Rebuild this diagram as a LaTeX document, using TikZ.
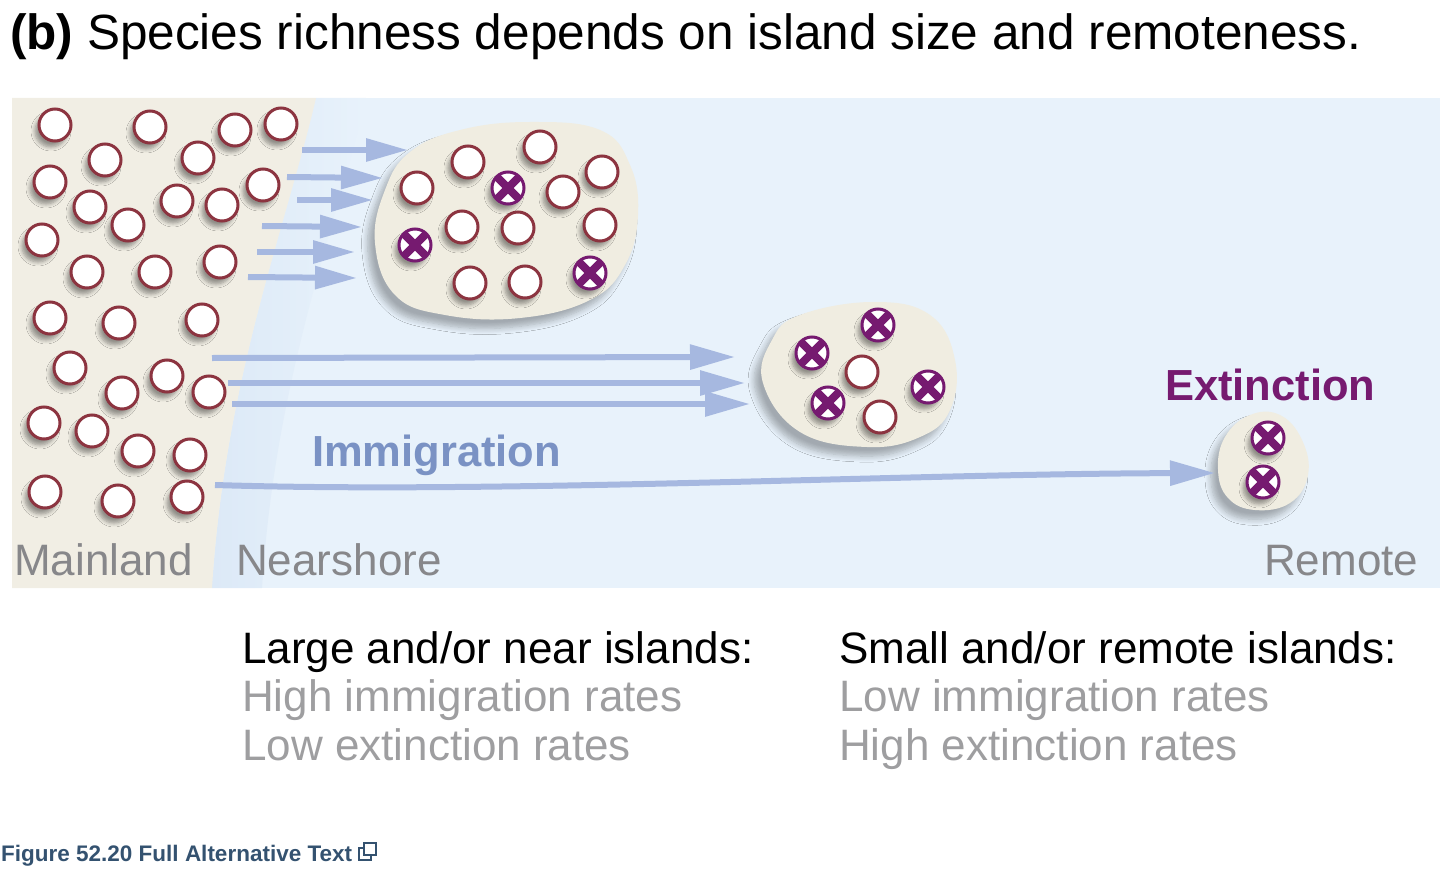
\documentclass[tikz,border=0pt]{standalone}
\usepackage{fontspec}
\setmainfont{Liberation Sans}
\usetikzlibrary{arrows.meta,shadows,shadows.blur}
\definecolor{panelblue}{RGB}{232,242,251}
\definecolor{shoreblue}{RGB}{220,233,247}
\definecolor{beige}{RGB}{241,238,228}
\definecolor{islbeige}{RGB}{240,237,225}
\definecolor{spred}{RGB}{140,52,64}
\definecolor{extp}{RGB}{118,26,112}
\definecolor{arrowblue}{RGB}{166,184,224}
\definecolor{immblue}{RGB}{122,146,196}
\definecolor{labgray}{RGB}{135,135,138}
\definecolor{rategray}{RGB}{158,158,160}
\definecolor{footblue}{RGB}{52,82,112}
\tikzset{
  sp/.style={circle, draw=spred, line width=3pt, fill=white, minimum size=32pt, inner sep=0pt,
    blur shadow={shadow xshift=-4pt, shadow yshift=-6pt, shadow opacity=40, shadow blur radius=4pt, shadow blur steps=6}},
  ext/.style={sp, draw=extp, path picture={
    \draw[extp, line width=8pt] (path picture bounding box.north west) -- (path picture bounding box.south east)
      (path picture bounding box.north east) -- (path picture bounding box.south west);}},
  island/.style={fill=islbeige, blur shadow={shadow xshift=-7pt, shadow yshift=-9pt, shadow opacity=30, shadow blur radius=6pt, shadow blur steps=8}},
  migr/.style={draw=arrowblue, line width=6pt, -{Triangle[length=42pt, width=22pt]}},
  lab/.style={anchor=base west, inner sep=0pt, font=\fontsize{44}{50}\selectfont},
}
\begin{document}
\begin{tikzpicture}[x=1pt, y=-1pt]
\useasboundingbox (0,0) rectangle (1440,872);
% title
\node[anchor=base west, inner sep=0pt, font=\fontsize{49.5}{56}\selectfont] (title) at (10,50)
  {\textbf{(b)} Species richness depends on island size and remoteness.};
% panel
\fill[panelblue] (12,98) rectangle (1440,588);
\shade[left color=shoreblue, right color=panelblue]
  (316,98) .. controls (285,230) and (225,380) .. (212,588) -- (262,588)
  .. controls (275,380) and (335,230) .. (366,98) -- cycle;
\fill[beige] (12,98) -- (316,98) .. controls (285,230) and (225,380) .. (212,588) -- (12,588) -- cycle;
% islands
\path[island] plot[smooth cycle, tension=0.7] coordinates {(375,243) (385,190) (410,152) (460,130) (530,122) (600,130) (630,165) (638,215) (625,265) (590,300) (520,318) (445,315) (395,295)};
\path[island] plot[smooth cycle, tension=0.7] coordinates {(763,383) (772,340) (800,315) (873,302) (930,315) (955,360) (950,410) (920,437) (867,447) (800,432)};
\path[island] plot[smooth cycle, tension=0.7] coordinates {(1218,470) (1225,437) (1250,415) (1280,415) (1302,440) (1308,475) (1290,503) (1255,510) (1228,498)};
% arrow end points
\coordinate (a1s) at (302,150); \coordinate (a1e) at (408,150);
\coordinate (a2s) at (287,177); \coordinate (a2e) at (383,178);
\coordinate (a3s) at (297,200); \coordinate (a3e) at (373,200);
\coordinate (a4s) at (262,226); \coordinate (a4e) at (362,227);
\coordinate (a5s) at (257,252); \coordinate (a5e) at (355,252);
\coordinate (a6s) at (248,277); \coordinate (a6e) at (357,278);
\coordinate (b1s) at (212,358); \coordinate (b1e) at (735,357);
\coordinate (b2s) at (228,383); \coordinate (b2e) at (745,383);
\coordinate (b3s) at (232,404); \coordinate (b3e) at (750,404);
\coordinate (cs) at (215,485); \coordinate (ce) at (1215,473);
\foreach \i in {1,...,6} {\draw[migr] (a\i s) -- (a\i e);}
\foreach \i in {1,2,3} {\draw[migr, -{Triangle[length=45pt, width=24pt]}] (b\i s) -- (b\i e);}
\draw[migr, -{Triangle[length=45pt, width=24pt]}] (cs) .. controls (500,494) and (900,474) .. (ce);
% mainland species
\foreach \n/\x/\y in {m1/55/125, m2/150/127, m3/235/130, m4/281/124, m5/105/160, m6/198/158,
  m7/50/182, m8/90/207, m9/128/225, m10/177/201, m11/222/205, m12/263/185, m13/42/240,
  m14/87/272, m15/155/272, m16/220/262, m17/50/318, m18/119/323, m19/202/320, m20/70/368,
  m21/122/393, m22/167/376, m23/209/392, m24/44/423, m25/92/431, m26/138/451, m27/190/455,
  m28/45/492, m29/118/501, m30/187/497}
  {\node[sp] (\n) at (\x,\y) {};}
% large island species
\foreach \n/\x/\y in {l1/468/162, l2/540/147, l3/602/172, l4/417/188, l5/563/192, l6/462/227,
  l7/518/228, l8/600/225, l9/470/283, l10/525/282}
  {\node[sp] (\n) at (\x,\y) {};}
\foreach \n/\x/\y in {lx1/508/188, lx2/415/245, lx3/590/273}
  {\node[ext] (\n) at (\x,\y) {};}
% medium island species
\node[sp] (md1) at (862,372) {};
\node[sp] (md2) at (880,417) {};
\foreach \n/\x/\y in {mx1/878/325, mx2/812/353, mx3/928/387, mx4/828/403}
  {\node[ext] (\n) at (\x,\y) {};}
% small island species
\node[ext] (sx1) at (1268,438) {};
\node[ext] (sx2) at (1263,482) {};
% labels
\node[lab, font=\fontsize{43.5}{50}\selectfont\bfseries, text=extp] (extl) at (1165,400) {Extinction};
\node[lab, font=\fontsize{43.5}{50}\selectfont\bfseries, text=immblue] (imml) at (312,466) {Immigration};
\node[lab, text=labgray] (mainl) at (14,575) {Mainland};
\node[lab, text=labgray] (nearl) at (236,575) {Nearshore};
\node[lab, text=labgray] (remol) at (1264,575) {Remote};
% bottom text
\node[lab] (lh) at (242,663) {Large and/or near islands:};
\node[lab, text=rategray] (l2) at (242,711) {High immigration rates};
\node[lab, text=rategray] (l3) at (242,760) {Low extinction rates};
\node[lab] (rh) at (839,663) {Small and/or remote islands:};
\node[lab, text=rategray] (r2) at (839,711) {Low immigration rates};
\node[lab, text=rategray] (r3) at (839,760) {High extinction rates};
% footer
\node[anchor=base west, inner sep=0pt, font=\fontsize{22.5}{26}\selectfont\bfseries, text=footblue] (foot) at (1,861) {Figure 52.20 Full Alternative Text};
\draw[footblue, line width=1.8pt] (359,848) rectangle (371,860);
\draw[footblue, line width=1.8pt, fill=white] (364,843) rectangle (376,855);
\end{tikzpicture}
\end{document}
